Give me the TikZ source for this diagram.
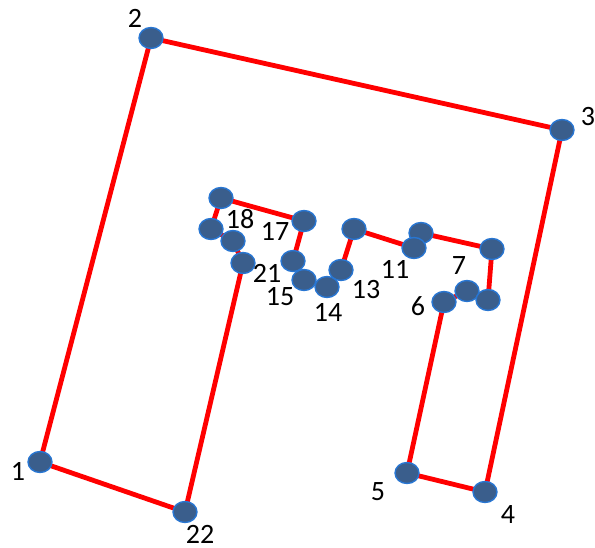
\documentclass[tikz,border=0pt]{standalone}
\usepackage{fontspec}
\setmainfont{Carlito}
\usetikzlibrary{shapes.geometric}
\begin{document}
\begin{tikzpicture}[x=1pt,y=-1pt,
  pt/.style={ellipse,draw={rgb,255:red,40;green,118;blue,210},line width=1.4pt,fill={rgb,255:red,58;green,94;blue,140},minimum width=24pt,minimum height=21pt,inner sep=0pt},
  lbl/.style={font=\fontsize{28}{28}\selectfont,inner sep=0pt},
  redline/.style={draw=red,line width=4.8pt}]
\useasboundingbox (0,0) rectangle (595,548);
\coordinate (p1) at (40,462);
\coordinate (p2) at (151,38);
\coordinate (p3) at (562,130);
\coordinate (p4) at (485,492);
\coordinate (p5) at (407,473);
\coordinate (p6) at (444,302);
\coordinate (p7) at (467,291);
\coordinate (p8) at (488,300);
\coordinate (p9) at (492,249);
\coordinate (p10) at (421,233);
\coordinate (p11) at (414,248);
\coordinate (p12) at (354,229);
\coordinate (p13) at (341,270);
\coordinate (p14) at (327,287);
\coordinate (p15) at (304,280);
\coordinate (p16) at (293,261);
\coordinate (p17) at (304,221);
\coordinate (p18) at (221,198);
\coordinate (p19) at (211,229);
\coordinate (p20) at (233,241);
\coordinate (p21) at (243,263);
\coordinate (p22) at (185,512);
\draw[redline] (p1) -- (p2) -- (p3) -- (p4) -- (p5) -- (p6) -- (p7) -- (p8) -- (p9) -- (p10) -- (p11) -- (p12) -- (p13) -- (p14) -- (p15) -- (p16) -- (p17) -- (p18) -- (p19) -- (p20) -- (p21) -- (p22) -- cycle;
\foreach \i in {1,...,22} {\node[pt] (n\i) at (p\i) {};}
\node[lbl] (l1) at (18,471) {1};
\node[lbl] (l2) at (135,18) {2};
\node[lbl] (l3) at (588,117) {3};
\node[lbl] (l4) at (508,515) {4};
\node[lbl] (l5) at (378,492) {5};
\node[lbl] (l6) at (418,306) {6};
\node[lbl] (l7) at (459,266) {7};
\node[lbl] (l11) at (395,269) {11};
\node[lbl] (l13) at (366,290) {13};
\node[lbl] (l14) at (328,312) {14};
\node[lbl] (l15) at (280,297) {15};
\node[lbl] (l17) at (275,231) {17};
\node[lbl] (l18) at (240,219) {18};
\node[lbl] (l21) at (267,273) {21};
\node[lbl] (l22) at (200,534) {22};
\end{tikzpicture}
\end{document}
